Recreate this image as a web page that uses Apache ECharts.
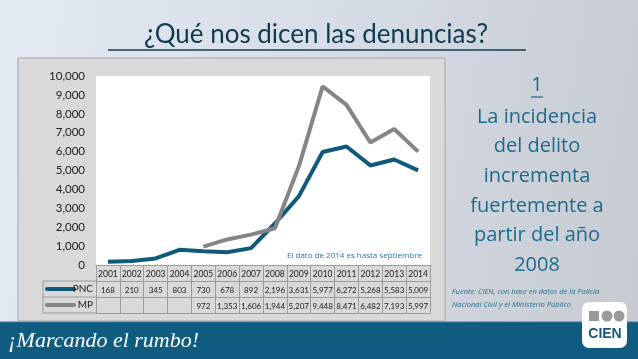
<!DOCTYPE html>
<html><head><meta charset="utf-8">
<script src="https://cdn.jsdelivr.net/npm/echarts@6/dist/echarts.min.js"></script>
<style>
html,body{margin:0;padding:0;}
#c{width:638px;height:359px;background:linear-gradient(100deg,#e2e9f3 0%,#d8dee8 45%,#c6cad0 100%);}
</style>
</head><body><div id="c"></div>
<script>
const years = ['2001','2002','2003','2004','2005','2006','2007','2008','2009','2010','2011','2012','2013','2014'];
const pnc = [168,210,345,803,730,678,892,2196,3631,5977,6272,5268,5583,5009];
const mp = [null,null,null,null,972,1353,1606,1944,5207,9448,8471,6482,7193,5997];
const seriesNames = ['PNC','MP'];
const sideText = ['La incidencia','del delito','incrementa','fuertemente a','partir del año','2008'];

const fmt = v => (v === null || v === undefined) ? '' : v.toLocaleString('en-US');
const chart = echarts.init(document.getElementById('c'), null, {renderer:'canvas'});
const teal = '#0e5a78', gray = '#858585', tableLine = '#9c9c9c', txt = '#1e6a8c';
const colors = [teal, gray];

const tableAxis = (offset, values, showLabel) => ({
  type:'category', data: years, gridIndex:0, position:'bottom', offset: offset,
  axisLine:{show:true, lineStyle:{color:tableLine, width:1}},
  axisTick:{show:false},
  axisLabel:{show:showLabel, interval:0, fontSize:8, color:'#222', margin:5, fontFamily:'Lato',
    formatter:(v,i)=>fmt(values[i])}
});

const graphics = [
  {type:'rect', z:-10, shape:{x:18,y:58,width:427,height:263}, style:{fill:'#d9d9d9', stroke:'#a8a8a8', lineWidth:1}},
  {type:'text', x:316, y:35, style:{text:'¿Qué nos dicen las denuncias?', font:'26px Lato', fill:'#0f3a4f', textAlign:'center', textVerticalAlign:'middle'}},
  {type:'line', shape:{x1:108,y1:50,x2:526,y2:50}, style:{stroke:'#123d52', lineWidth:1.5}},
  {type:'text', x:537, y:85, style:{text:'1', font:'20px "Open Sans"', fill:txt, textAlign:'center', textVerticalAlign:'middle'}},
  {type:'line', shape:{x1:531,y1:97,x2:543,y2:97}, style:{stroke:txt, lineWidth:1.2}},
  {type:'text', x:422, y:256, style:{text:'El dato de 2014 es hasta septiembre', font:'8px "Open Sans"', fill:'#2a7597', textAlign:'right', textVerticalAlign:'middle'}},
  // legend column borders
  {type:'line', shape:{x1:43,y1:281,x2:96,y2:281}, style:{stroke:tableLine, lineWidth:1}},
  {type:'line', shape:{x1:43,y1:297,x2:96,y2:297}, style:{stroke:tableLine, lineWidth:1}},
  {type:'line', shape:{x1:43,y1:313,x2:96,y2:313}, style:{stroke:tableLine, lineWidth:1}},
  {type:'line', shape:{x1:43,y1:281,x2:43,y2:313}, style:{stroke:tableLine, lineWidth:1}},
  {type:'text', x:452, y:292, style:{text:'Fuente: CIEN, con base en datos de la Policía', font:'italic 7.5px "Open Sans"', fill:'#2a6f8e', textVerticalAlign:'middle'}},
  {type:'text', x:452, y:305, style:{text:'Nacional Civil y el Ministerio Público', font:'italic 7.5px "Open Sans"', fill:'#2a6f8e', textVerticalAlign:'middle'}},
  // banner
  {type:'rect', shape:{x:0,y:322,width:638,height:37}, style:{fill:'#105b80'}},
  {type:'line', shape:{x1:0,y1:322,x2:638,y2:322}, style:{stroke:'#2c7aa0', lineWidth:1}},
  {type:'text', x:8, y:341, style:{text:'¡Marcando el rumbo!', font:'italic 22px "Liberation Serif"', fill:'#ffffff', textVerticalAlign:'middle'}},
  // logo
  {type:'rect', shape:{x:582,y:302,width:45,height:46,r:7}, style:{fill:'#ffffff'}},
  {type:'rect', shape:{x:589,y:311,width:10,height:10}, style:{fill:'#9a9a9a'}},
  {type:'circle', shape:{cx:607,cy:316,r:5.5}, style:{fill:'#9a9a9a'}},
  {type:'circle', shape:{cx:619,cy:316,r:5.5}, style:{fill:'#9a9a9a'}},
  {type:'text', x:605, y:334, style:{text:'CIEN', font:'bold 14px "Liberation Sans Narrow","Liberation Sans"', fill:'#16597d', textAlign:'center', textVerticalAlign:'middle'}}
];
sideText.forEach((t,i)=>{
  graphics.push({type:'text', x:537, y:117+i*29.6, style:{text:t, font:'20px "Open Sans"', fill:txt, textAlign:'center', textVerticalAlign:'middle'}});
});
// legend keys in the table's first column
seriesNames.forEach((n,i)=>{
  const y = 289 + i*16;
  graphics.push({type:'line', shape:{x1:47,y1:y,x2:74,y2:y}, style:{stroke:colors[i], lineWidth:4, lineCap:'round'}});
  graphics.push({type:'text', x:93, y:y, style:{text:n, font:'10px Lato', fill:'#222', textAlign:'right', textVerticalAlign:'middle'}});
});

chart.setOption({
  backgroundColor:'transparent',
  animation:false,
  grid:{left:96, right:208, top:76, bottom:94, show:true, backgroundColor:'#ffffff', borderWidth:0},
  xAxis:[
    {type:'category', data:years, gridIndex:0, position:'bottom', boundaryGap:true,
     axisLine:{show:true, lineStyle:{color:tableLine, width:1}},
     axisTick:{show:true, length:48, interval:0, lineStyle:{color:tableLine, width:1}},
     axisLabel:{interval:0, fontSize:8.5, color:'#222', margin:5, fontFamily:'Lato'}},
    tableAxis(16, pnc, true),
    tableAxis(32, mp, true),
    tableAxis(48, pnc, false)
  ],
  yAxis:{type:'value', min:0, max:10000, interval:1000,
    axisLine:{show:false}, axisTick:{show:false}, splitLine:{show:false},
    axisLabel:{fontSize:11.5, color:'#222', margin:11, fontFamily:'Lato', formatter:v=>fmt(v)}},
  series:[
    {name:'PNC', type:'line', data:pnc, xAxisIndex:0, symbol:'none', color:teal, lineStyle:{width:4, color:teal}},
    {name:'MP', type:'line', data:mp, xAxisIndex:0, symbol:'none', color:gray, lineStyle:{width:4, color:gray}}
  ],
  graphic:graphics
});
</script></body></html>
